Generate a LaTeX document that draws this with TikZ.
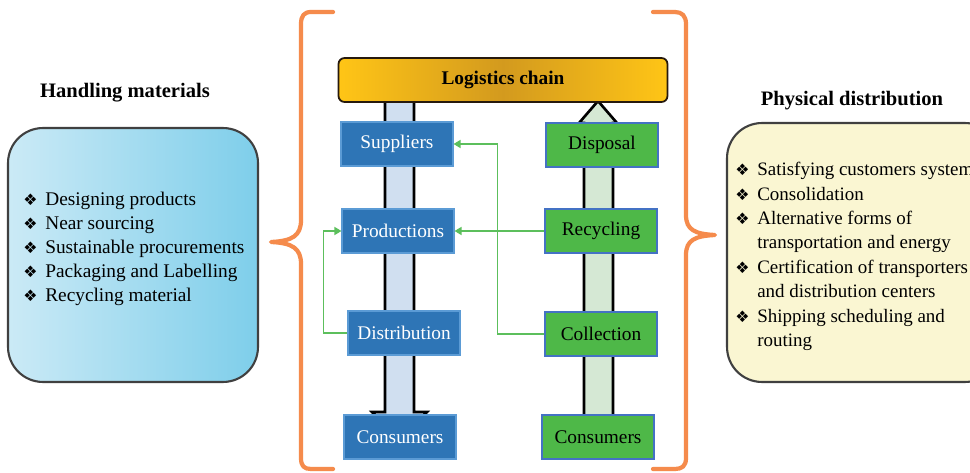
\documentclass[tikz,border=0pt]{standalone}
\usepackage{fontspec}
\setmainfont{Liberation Serif}
\newfontfamily\symfont{DejaVu Sans}
\usetikzlibrary{arrows.meta}
\definecolor{bluebox}{HTML}{2E75B6}
\definecolor{blueedge}{HTML}{5B9BD5}
\definecolor{greenbox}{HTML}{4EB848}
\definecolor{greenedge}{HTML}{4472C4}
\definecolor{conncol}{HTML}{5CBF5C}
\definecolor{bracecol}{HTML}{F58B4C}
\definecolor{shaftblue}{HTML}{D0DFF0}
\definecolor{shaftgreen}{HTML}{D5E8D4}
\definecolor{goldA}{HTML}{FFC516}
\definecolor{goldB}{HTML}{D39A1E}
\definecolor{lblueA}{HTML}{CBEAF6}
\definecolor{lblueB}{HTML}{7ECEEA}
\definecolor{lyellow}{HTML}{FAF6D2}
\newcommand{\bul}{\makebox[12.5pt][l]{\symfont\fontsize{9}{9}\selectfont ❖}}
\newcommand{\nobul}{\makebox[12.5pt][l]{}}
\tikzset{
  txt/.style={font=\fontsize{11}{13.6}\selectfont},
  bluenode/.style={draw=blueedge, line width=0.6pt, fill=bluebox, text=white, minimum width=2.24cm, minimum height=0.88cm, inner sep=0pt, txt},
  greennode/.style={draw=greenedge, line width=0.6pt, fill=greenbox, text=black, minimum width=2.24cm, minimum height=0.88cm, inner sep=0pt, txt},
  conn/.style={draw=conncol, line width=1pt, -{Triangle[length=4pt,width=4.5pt]}},
  bracestyle/.style={draw=bracecol, line width=2.4pt, line cap=round, line join=round},
  shaft/.style={draw=black, line width=1.5pt, line join=miter},
  heading/.style={font=\bfseries\fontsize{11.7}{13}\selectfont},
  bigbox/.style={draw=black!75, line width=1.2pt, rounded corners=0.7cm, inner sep=0pt}
}
\begin{document}
\begin{tikzpicture}[x=0.02cm,y=-0.02cm]
\clip (0,0) rectangle (970,473);
\fill[white] (0,0) rectangle (970,473);

% braces
\draw[bracestyle] (333,12) -- (311,12) .. controls (304,12) and (301,16) .. (301,24) -- (301,220)
  .. controls (301,236) and (292,241) .. (271,242)
  .. controls (292,243) and (301,248) .. (301,264) -- (301,458)
  .. controls (301,466) and (304,469) .. (311,469) -- (333,469);
\draw[bracestyle] (653,12) -- (675,12) .. controls (682,12) and (686,16) .. (686,24) -- (686,215)
  .. controls (686,230) and (695,234) .. (715,235)
  .. controls (695,236) and (686,240) .. (686,255) -- (686,458)
  .. controls (686,466) and (682,469) .. (675,469) -- (653,469);

% big arrows
\draw[shaft, fill=shaftblue] (385,100) -- (385,412) -- (372,412) -- (399,440) -- (427,412) -- (414,412) -- (414,100);
\draw[shaft, fill=shaftgreen] (584,430) -- (584,123) -- (579,123) -- (598,101) -- (617,123) -- (613,123) -- (613,430);

% logistics chain
\node[draw=black!80!brown, line width=1pt, rounded corners=0.12cm, left color=goldA, right color=goldA, middle color=goldB,
  minimum width=6.58cm, minimum height=0.88cm, inner sep=0pt, font=\bfseries\fontsize{11}{13}\selectfont] (chain) at (503,80) {Logistics chain};

% blue chain
\node[bluenode] (sup) at (397,144) {Suppliers};
\node[bluenode] (prod) at (398,231) {Productions};
\node[bluenode] (dist) at (404,333) {Distribution};
\node[bluenode] (bcons) at (400,437) {Consumers};

% green chain
\node[greennode] (disp) at (602,145) {Disposal};
\node[greennode] (rec) at (601,231) {Recycling};
\node[greennode] (col) at (601,334) {Collection};
\node[greennode] (gcons) at (598,437) {Consumers};

% connectors
\draw[conn] (rec.west) -- (prod.east);
\draw[conn] (col.west) -- ++(-47,0) |- (sup.east);
\draw[conn] (dist.west) -- ++(-24,0) |- (prod.west);

% left box
\node[heading] (hmtitle) at (125,93) {Handling materials};
\node[bigbox, left color=lblueA, right color=lblueB, minimum width=5cm, minimum height=5.08cm] (hmbox) at (133,255) {};
\node[txt, align=left, anchor=north west, inner sep=0pt] (hmlist) at (23,192) {%
\bul Designing products\\
\bul Near sourcing\\
\bul Sustainable procurements\\
\bul Packaging and Labelling\\
\bul Recycling material};

% right box
\node[heading] (pdtitle) at (852,101) {Physical distribution};
\node[bigbox, fill=lyellow, minimum width=5.46cm, minimum height=5.18cm] (pdbox) at (863.5,252.5) {};
\node[txt, align=left, anchor=north west, inner sep=0pt, font=\fontsize{10.8}{13.9}\selectfont] (pdlist) at (735,162) {%
\bul Satisfying customers system\\
\bul Consolidation\\
\bul Alternative forms of\\
\nobul transportation and energy\\
\bul Certification of transporters\\
\nobul and distribution centers\\
\bul Shipping scheduling and\\
\nobul routing};
\end{tikzpicture}
\end{document}
